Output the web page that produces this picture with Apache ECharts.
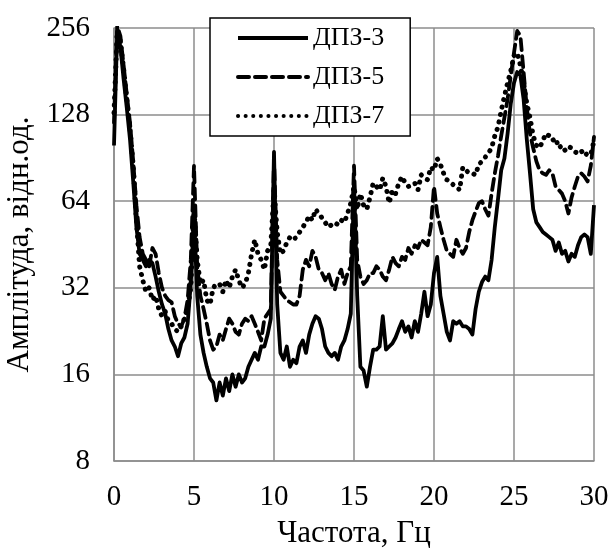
<!DOCTYPE html>
<html>
<head>
<meta charset="utf-8">
<script src="https://cdn.jsdelivr.net/npm/echarts@6/dist/echarts.min.js"></script>
<style>
html,body{margin:0;padding:0;background:#fff;}
#chart{width:615px;height:551px;}
</style>
</head>
<body>
<div id="chart"></div>
<script>
// Frequency, Hz
var freq = [
  0,0.2,0.4,0.6,0.8,1,1.2,1.4,1.6,1.8,
  2,2.2,2.4,2.6,2.8,3,3.2,3.4,3.6,3.8,
  4,4.2,4.4,4.6,4.8,5,5.2,5.4,5.6,5.8,
  6,6.2,6.4,6.6,6.8,7,7.2,7.4,7.6,7.8,
  8,8.2,8.4,8.6,8.8,9,9.2,9.4,9.6,9.8,
  10,10.2,10.4,10.6,10.8,11,11.2,11.4,11.6,11.8,
  12,12.2,12.4,12.6,12.8,13,13.2,13.4,13.6,13.8,
  14,14.2,14.4,14.6,14.8,15,15.2,15.4,15.6,15.8,
  16,16.2,16.4,16.6,16.8,17,17.2,17.4,17.6,17.8,
  18,18.2,18.4,18.6,18.8,19,19.2,19.4,19.6,19.8,
  20,20.2,20.4,20.6,20.8,21,21.2,21.4,21.6,21.8,
  22,22.2,22.4,22.6,22.8,23,23.2,23.4,23.6,23.8,
  24,24.2,24.4,24.6,24.8,25,25.2,25.4,25.6,25.8,
  26,26.2,26.4,26.6,26.8,27,27.2,27.4,27.6,27.8,
  28,28.2,28.4,28.6,28.8,29,29.2,29.4,29.6,29.8,
  30
];
// ДПЗ-3 (solid)
var dpz3 = [
  100,250,220,170,135,105,75,52,42,40,
  38,40,39,35,31,28,26,23,21,20,
  18.5,20.5,21.5,24,33,58,30,22,19,17,
  15.5,15,13,15,13.5,15.5,14,16,14.5,16,
  15,15.5,17,18,19,18,20,20,22,25,
  95,28,19,18,20,17,18,17.5,20,21,
  19,22,24,25.5,25,23,20,19,18.5,19,
  18,20,21,23,26,75,30,17,16.5,14.5,
  17,19.5,19.5,20,25.5,19.5,20,20.5,21.5,23,
  24.5,22.5,23.5,21.5,24.5,22.5,26,31,25.5,28,
  36,41,30,26,22.5,21,24.5,24,24.5,23.5,
  23.5,23,22,27,31,33.5,35,34,40,52,
  65,82,90,110,140,165,180,175,145,105,
  80,60,54,52,50,49,48,47,43,46,
  42,43,39.5,42,41,45,48,49,48,42,
  62
];
// ДПЗ-5 (dashed)
var dpz5 = [
  120,260,240,190,150,120,88,62,48,42,
  40,38,44,42,36,32,30,29,28.5,25.5,
  24,23.5,25,29,40,85,38,30,27,24,
  21,19.5,20,22,21,23,25,24,22.5,22,
  24,25,24.5,25.5,24,22.5,21,25,26,27,
  90,40,31,30,29,28.5,28,28,30,37,
  40,38,43,41,37,36,34,36,33,31.5,
  35,37,33,36,38,85,40,35,33,34,
  36,36,38,37,35,34,37,41,39,38,
  41,40,44,42,45,44,47,46,45,52,
  72,58,52,47,43,42,41,47,44,42,
  44,50,55,59,63,64,60,57,68,80,
  92,108,125,145,175,210,250,240,180,135,
  110,98,88,82,80,79,82,80,72,70,
  68,64,58,66,72,78,80,78,75,85,
  107
];
// ДПЗ-7 (dotted)
var dpz7 = [
  130,250,230,185,145,115,85,55,38,34,
  31,32,29,30,27,25.5,26.5,24.5,24,23,
  22.5,23.5,25,27,32,60,40,33,34,29,
  28,32,33,33,31,34,32,35,37,34,
  32,33,36,42,47,42,40,37,43,45,
  70,50,42,43,46,48,47,48,50,52,
  54,57,55,60,58,56,54,52,53,54,
  53,55,54,58,63,72,60,68,62,60,
  66,74,72,70,77,72,63,70,68,74,
  78,74,72,73,74,70,79,77,76,84,
  82,90,86,80,76,75,73,72,70,84,
  82,80,80,79,86,88,91,94,98,108,
  116,132,148,165,182,205,210,190,165,140,
  125,108,100,98,104,110,108,104,106,98,
  100,96,99,98,95,94,96,92,94,93,
  104
];
var seriesNames = ['ДПЗ-3','ДПЗ-5','ДПЗ-7'];
var xTicks = [0,5,10,15,20,25,30];
var yTicks = [8,16,32,64,128,256];

function pairs(vals){ return freq.map(function(f,i){ return [f, vals[i]]; }); }

var font = '"Liberation Serif", "Times New Roman", serif';
var gridColor = '#8c8c8c';
var chart = echarts.init(document.getElementById('chart'), null, {renderer:'canvas'});
chart.setOption({
  animation:false,
  backgroundColor:'#fff',
  textStyle:{fontFamily:font, color:'#000'},
  grid:{left:114, right:21, top:28, bottom:90, containLabel:false, outerBoundsMode:'none'},
  legend:{
    orient:'vertical', left:210, top:18,
    padding:[7,26,7,26],
    backgroundColor:'#fff', borderColor:'#000', borderWidth:1.5,
    itemWidth:70, itemHeight:14, itemGap:13,
    itemStyle:{color:'rgba(0,0,0,0)', borderWidth:0, opacity:0},
    lineStyle:{width:4},
    textStyle:{fontFamily:font, fontSize:26, color:'#000', lineHeight:23},
    data:seriesNames
  },
  xAxis:{
    type:'value', min:xTicks[0], max:xTicks[xTicks.length-1], interval:5,
    name:'Частота, Гц', nameLocation:'middle', nameGap:57,
    nameTextStyle:{fontFamily:font, fontSize:31, color:'#000'},
    axisLine:{show:true, lineStyle:{color:gridColor, width:1.5}},
    axisTick:{show:false},
    axisLabel:{fontFamily:font, fontSize:29, color:'#000', margin:22},
    splitLine:{show:true, lineStyle:{color:gridColor, width:1.5}}
  },
  yAxis:{
    type:'log', logBase:2, min:yTicks[0], max:yTicks[yTicks.length-1],
    name:'Амплітуда, відн.од.', nameLocation:'middle', nameGap:76,
    nameTextStyle:{fontFamily:font, fontSize:31, color:'#000'},
    axisLine:{show:true, lineStyle:{color:gridColor, width:1.5}},
    axisTick:{show:false},
    axisLabel:{fontFamily:font, fontSize:29, color:'#000', margin:24,
      formatter:function(v){ return String(Math.round(v)); }},
    splitLine:{show:true, lineStyle:{color:gridColor, width:1.5}}
  },
  series:[
    {name:seriesNames[0], type:'line', data:pairs(dpz3), symbol:'none', showSymbol:false,
     lineStyle:{color:'#000', width:3.8, type:'solid', join:'round'}, itemStyle:{color:'#000'}, z:3},
    {name:seriesNames[1], type:'line', data:pairs(dpz5), symbol:'none', showSymbol:false,
     lineStyle:{color:'#000', width:3.8, type:[11,6], cap:'round', join:'round'}, itemStyle:{color:'#000'}, z:2},
    {name:seriesNames[2], type:'line', data:pairs(dpz7), symbol:'none', showSymbol:false,
     lineStyle:{color:'#000', width:5, type:[0.1,7.5], cap:'round', join:'round'}, itemStyle:{color:'#000'}, z:1}
  ]
});
</script>
</body>
</html>
